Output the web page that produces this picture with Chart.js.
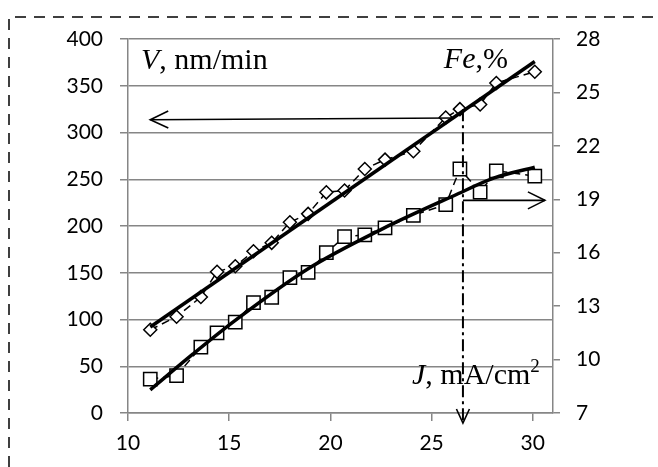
<!DOCTYPE html>
<html><head><meta charset="utf-8">
<script src="https://cdn.jsdelivr.net/npm/chart.js@4/dist/chart.umd.min.js"></script>
<style>html,body{margin:0;padding:0;background:#fff;} #wrap{width:658px;height:467px;position:relative;}</style>
</head><body><div id="wrap"><canvas id="c"></canvas></div>
<script>
// ---- data ----
const jValues   = [11.1, 12.4, 13.6, 14.4, 15.3, 16.2, 17.1, 18.0, 18.9, 19.8, 20.7, 21.7, 22.7, 24.1, 25.7, 26.4, 27.4, 28.2, 30.1];
const vRate     = [89, 103, 124, 151, 157, 173, 182, 204, 213, 236, 238, 261, 271, 280, 316, 325, 330, 353, 365];
const feContent = [8.9, 9.1, 10.7, 11.5, 12.1, 13.2, 13.5, 14.6, 14.9, 16.0, 16.9, 17.0, 17.4, 18.1, 18.7, 20.7, 19.4, 20.6, 20.3];
const vTrendJ   = [11.1, 30.1];
const vTrendV   = [92, 376];
const feTrendJ  = [11.1, 13.2, 15.3, 18.9, 22.5, 26.1, 28.1, 30.1];
const feTrendFe = [8.3, 10.3, 12.2, 15.1, 17.3, 19.2, 20.2, 20.8];
const xTicks      = [10, 15, 20, 25, 30];
const yLeftTicks  = [0, 50, 100, 150, 200, 250, 300, 350, 400];
const yRightTicks = [7, 10, 13, 16, 19, 22, 25, 28];
// annotation anchors (data units)
const markJ = 26.55;        // dash-dot vertical marker
const markV = 325;          // where it starts (V scale)
const leftArrowJ = [26.1, 11.1], leftArrowV = [315.5, 313.7];
const rightArrowJ = [26.55, 30.6], rightArrowFe = 18.94;

const pts = (xs, ys) => xs.map((x, i) => ({x, y: ys[i]}));
const GRID = '#868686';
const tickFont = {family: 'Lato', size: 21};
const SERIF = '"Liberation Serif", "Times New Roman", serif';

function head(ctx, tx, ty, dx, dy, len, half) {
  const n = Math.hypot(dx, dy); dx /= n; dy /= n;
  const bx = tx - dx * len, by = ty - dy * len;
  ctx.beginPath();
  ctx.moveTo(bx - dy * half, by + dx * half);
  ctx.lineTo(tx, ty);
  ctx.lineTo(bx + dy * half, by - dx * half);
  ctx.stroke();
}
function rich(ctx, parts, x, y) {
  for (const p of parts) {
    ctx.font = p.font;
    ctx.fillText(p.t, x, y + (p.dy || 0));
    x += ctx.measureText(p.t).width;
  }
}
function richWidth(ctx, parts) {
  let w = 0;
  for (const p of parts) { ctx.font = p.font; w += ctx.measureText(p.t).width; }
  return w;
}

const annot = {
  id: 'annot',
  beforeDraw(chart) {
    const ctx = chart.ctx;
    ctx.save();
    ctx.fillStyle = '#fff';
    ctx.fillRect(0, 0, chart.width, chart.height);
    ctx.strokeStyle = '#000'; ctx.lineWidth = 1.5; ctx.setLineDash([11, 8]);
    ctx.beginPath();
    ctx.moveTo(9, chart.height); ctx.lineTo(9, 17); ctx.lineTo(chart.width, 17);
    ctx.stroke();
    ctx.restore();
  },
  afterDatasetsDraw(chart) {
    const {ctx, chartArea: ca, scales} = chart;
    const X = scales.x, YL = scales.y, YR = scales.y1;
    ctx.save();
    ctx.strokeStyle = '#000'; ctx.fillStyle = '#000';
    ctx.lineWidth = 1.6; ctx.lineCap = 'butt';
    // left arrow (V)
    const lx0 = X.getPixelForValue(leftArrowJ[0]), ly0 = YL.getPixelForValue(leftArrowV[0]);
    const lx1 = X.getPixelForValue(leftArrowJ[1]), ly1 = YL.getPixelForValue(leftArrowV[1]);
    ctx.beginPath(); ctx.moveTo(lx0, ly0); ctx.lineTo(lx1, ly1); ctx.stroke();
    head(ctx, lx1, ly1, lx1 - lx0, ly1 - ly0, 18, 8.5);
    // right arrow (Fe)
    const rx0 = X.getPixelForValue(rightArrowJ[0]), rx1 = X.getPixelForValue(rightArrowJ[1]);
    const ry = YR.getPixelForValue(rightArrowFe);
    ctx.beginPath(); ctx.moveTo(rx0, ry); ctx.lineTo(rx1, ry); ctx.stroke();
    head(ctx, rx1, ry, 1, 0, 17, 8.5);
    // dash-dot vertical marker
    const mx = X.getPixelForValue(markJ);
    const my0 = YL.getPixelForValue(markV);
    const myTip = ca.bottom + 10;
    ctx.lineWidth = 2;
    ctx.setLineDash([12, 4, 3, 4]);
    ctx.beginPath(); ctx.moveTo(mx, my0); ctx.lineTo(mx, myTip - 2); ctx.stroke();
    ctx.setLineDash([]);
    ctx.lineWidth = 1.6;
    head(ctx, mx, myTip, 0, 1, 14, 6.5);
    // axis labels inside the plot
    ctx.textBaseline = 'alphabetic';
    const it = 'italic 30px ' + SERIF, nm = '30px ' + SERIF, sup = '19px ' + SERIF;
    rich(ctx, [{t: 'V', font: it}, {t: ', nm/min', font: nm}], ca.left + 13, ca.top + 30);
    const feParts = [{t: 'Fe', font: it}, {t: ',%', font: nm}];
    rich(ctx, feParts, ca.right - 45 - richWidth(ctx, feParts), ca.top + 29);
    rich(ctx, [{t: 'J', font: it}, {t: ', mA/cm', font: nm}, {t: '2', font: sup, dy: -12}], ca.right - 141, ca.bottom - 29);
    ctx.restore();
  }
};

new Chart(document.getElementById('c'), {
  type: 'line',
  data: {
    datasets: [
      {data: pts(vTrendJ, vTrendV), yAxisID: 'y', borderColor: '#000', borderWidth: 3.5,
       pointRadius: 0, order: 0},
      {data: pts(feTrendJ, feTrendFe), yAxisID: 'y1', borderColor: '#000', borderWidth: 3.5,
       pointRadius: 0, cubicInterpolationMode: 'monotone', order: 0},
      {data: pts(jValues, vRate), yAxisID: 'y', borderColor: '#000', borderWidth: 1.5, borderDash: [8, 5],
       pointStyle: 'rectRot', pointRadius: 6.5, pointBackgroundColor: '#fff', pointBorderColor: '#000',
       pointBorderWidth: 1.5, order: 1},
      {data: pts(jValues, feContent), yAxisID: 'y1', borderColor: '#000', borderWidth: 1.5, borderDash: [8, 5],
       pointStyle: 'rect', pointRadius: 9.4, pointBackgroundColor: '#fff', pointBorderColor: '#000',
       pointBorderWidth: 1.5, order: 1}
    ]
  },
  options: {
    responsive: true, maintainAspectRatio: false, animation: false, devicePixelRatio: 1,
    layout: {padding: {top: 39, left: 0, right: 0, bottom: 0}},
    plugins: {legend: {display: false}, tooltip: {enabled: false}},
    elements: {line: {tension: 0}},
    scales: {
      x: {type: 'linear', min: 10, max: 31,
          afterBuildTicks: s => { s.ticks = xTicks.map(v => ({value: v})); },
          afterFit: s => { s.height = 54; },
          grid: {drawOnChartArea: false, drawTicks: true, tickLength: 8, color: GRID, lineWidth: 1.5},
          border: {color: GRID, width: 1.5},
          ticks: {font: tickFont, color: '#000', padding: 10, maxRotation: 0}},
      y: {type: 'linear', position: 'left', min: 0, max: 400,
          afterBuildTicks: s => { s.ticks = yLeftTicks.map(v => ({value: v})); },
          afterFit: s => { s.width = 128; },
          grid: {color: GRID, lineWidth: 1.5, tickLength: 8},
          border: {color: GRID, width: 1.5},
          ticks: {font: tickFont, color: '#000', padding: 17}},
      y1: {type: 'linear', position: 'right', min: 7, max: 28,
          afterBuildTicks: s => { s.ticks = yRightTicks.map(v => ({value: v})); },
          afterFit: s => { s.width = 105; },
          grid: {drawOnChartArea: false, color: GRID, lineWidth: 1.5, tickLength: 7},
          border: {color: GRID, width: 1.5},
          ticks: {font: tickFont, color: '#000', padding: 16}}
    }
  },
  plugins: [annot]
});
</script></body></html>
